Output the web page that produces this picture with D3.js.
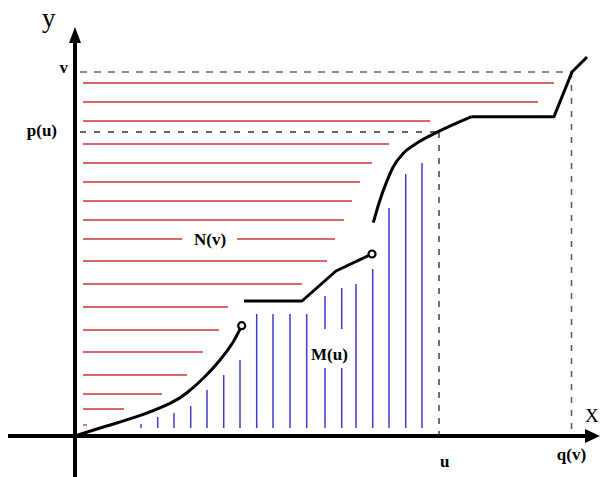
<!DOCTYPE html>
<html>
<head>
<meta charset="utf-8">
<script src="https://cdn.jsdelivr.net/npm/d3@7"></script>
<style>
body { margin: 0; background: #fff; }
text { font-family: "Liberation Serif", "DejaVu Serif", serif; }
</style>
</head>
<body>
<svg width="600" height="477"></svg>
<script>
var width = 600;
var height = 477;

// key values
var u = 7.28, pu = 7.6, v = 9.1, qv = 9.93;

// the function, drawn in pieces (jumps between them)
var pieceA = [[0,0],[0.634,0.25],[1.234,0.483],[1.9,0.818],[2.234,1.075],[2.566,1.443],[2.9,1.9],[3.166,2.358],[3.334,2.758]];
var pieceB = [[3.38,3.375],[4.54,3.375],[5.22,4.125],[5.94,4.55]];
var pieceC = [[5.966,5.333],[6.1,5.9],[6.234,6.358],[6.366,6.733],[6.566,7.068],[6.834,7.318],[7.266,7.608],[7.934,7.983]];
var pieceD = [[7.934,7.983],[9.58,7.983],[9.94,9.1],[10.24,9.475]];

// red horizontal lines (N(v)): level and right end
var redStart = 0.16;
var redLevels = [8.825, 8.35, 7.875, 7.3, 6.825, 6.35, 5.875, 5.4, 4.925, 4.375, 3.8, 3.225, 2.65, 2.1, 1.525, 1.05, 0.675, 0.275];
var redEnds   = [9.58, 9.26, 7.1, 6.28, 5.94, 5.7, 5.54, 5.38, 5.2, 5.04, 4.54, 3.06, 2.88, 2.56, 2.24, 1.74, 0.98, 0.24];

// blue vertical lines (M(u)): position and top
var blueBottom = 0.2;
var blueX    = [1.32, 1.654, 1.98, 2.314, 2.64, 2.974, 3.3, 3.634, 3.96, 4.3, 4.634, 5.0, 5.334, 5.62, 5.954, 6.28, 6.614, 6.94];
var blueTops = [0.3, 0.475, 0.575, 0.75, 1.15, 1.525, 1.9, 3.05, 3.05, 3.05, 3.05, 3.5, 3.7, 3.8, 4.175, 5.7, 6.55, 6.825];

var x = d3.scaleLinear().domain([0, 10]).range([75, 575]);
var y = d3.scaleLinear().domain([0, 10]).range([436, 36]);

var svg = d3.select("svg");

// red lines
svg.append("g").selectAll("line")
  .data(redLevels)
  .enter().append("line")
    .attr("x1", x(redStart))
    .attr("x2", (d, i) => x(redEnds[i]))
    .attr("y1", d => y(d))
    .attr("y2", d => y(d))
    .attr("stroke", "#c40000")
    .attr("stroke-opacity", 0.8)
    .attr("stroke-width", 1.3);

// blue lines
svg.append("g").selectAll("line")
  .data(blueX)
  .enter().append("line")
    .attr("x1", d => x(d))
    .attr("x2", d => x(d))
    .attr("y1", y(blueBottom))
    .attr("y2", (d, i) => y(blueTops[i]))
    .attr("stroke", "#1a1ac4")
    .attr("stroke-opacity", 0.85)
    .attr("stroke-width", 1.5);

// dashed guides
var dashed = svg.append("g").attr("fill", "none").attr("stroke-width", 1.5);
dashed.append("line")
  .attr("x1", x(0.1)).attr("x2", x(qv)).attr("y1", y(v)).attr("y2", y(v))
  .attr("stroke", "#666").attr("stroke-dasharray", "7,7");
dashed.append("line")
  .attr("x1", x(0.1)).attr("x2", x(u)).attr("y1", y(pu)).attr("y2", y(pu))
  .attr("stroke", "#333").attr("stroke-dasharray", "6,8");
dashed.append("line")
  .attr("x1", x(u)).attr("x2", x(u)).attr("y1", y(pu)).attr("y2", y(0))
  .attr("stroke", "#444").attr("stroke-dasharray", "6,7");
dashed.append("line")
  .attr("x1", x(qv)).attr("x2", x(qv)).attr("y1", y(v)).attr("y2", y(0))
  .attr("stroke", "#555").attr("stroke-dasharray", "6,7");

// axes
var axes = svg.append("g");
axes.append("line")
  .attr("x1", x(-1.34)).attr("x2", x(10.2)).attr("y1", y(0)).attr("y2", y(0))
  .attr("stroke", "#000").attr("stroke-width", 4);
axes.append("line")
  .attr("x1", x(0)).attr("x2", x(0)).attr("y1", y(-1.1)).attr("y2", y(9.9))
  .attr("stroke", "#000").attr("stroke-width", 4);
axes.append("path")
  .attr("d", `M${x(10.5)},${y(0)} L${x(10.2)},${y(0) - 7} L${x(10.2)},${y(0) + 7} Z`)
  .attr("fill", "#000");
axes.append("path")
  .attr("d", `M${x(0)},${y(10.225)} L${x(0) - 6},${y(9.825)} L${x(0) + 6},${y(9.825)} Z`)
  .attr("fill", "#000");

// the curve
var natural = d3.line().x(d => x(d[0])).y(d => y(d[1])).curve(d3.curveNatural);
var smooth = d3.line().x(d => x(d[0])).y(d => y(d[1])).curve(d3.curveMonotoneX);
var straight = d3.line().x(d => x(d[0])).y(d => y(d[1]));
var curve = svg.append("g").attr("fill", "none").attr("stroke", "#000")
  .attr("stroke-width", 3).attr("stroke-linejoin", "round");
curve.append("path").attr("d", natural(pieceA));
curve.append("path").attr("d", straight(pieceB));
curve.append("path").attr("d", smooth(pieceC));
curve.append("path").attr("d", straight(pieceD));

// open ends
svg.append("g").selectAll("circle")
  .data([pieceA[pieceA.length - 1], pieceB[pieceB.length - 1]])
  .enter().append("circle")
    .attr("cx", d => x(d[0]))
    .attr("cy", d => y(d[1]))
    .attr("r", 3.5)
    .attr("fill", "#fff")
    .attr("stroke", "#000")
    .attr("stroke-width", 2.2);

// labels
var labels = svg.append("g").attr("fill", "#000");

function boxedLabel(text, px, py, padL, padR, padT, padB) {
  var t = labels.append("text")
    .attr("x", px).attr("y", py)
    .attr("font-size", 17).attr("font-weight", "bold")
    .text(text);
  var b = t.node().getBBox();
  labels.insert("rect", "text")
    .attr("x", b.x - padL).attr("y", b.y - padT)
    .attr("width", b.width + padL + padR).attr("height", b.height + padT + padB)
    .attr("fill", "#fff");
}
boxedLabel("N(v)", x(2.38), y(4.775), 12, 11, 0, 0);
boxedLabel("M(u)", x(4.72), y(1.9), -12, 0, 16, 4);

labels.append("text").attr("x", x(-0.66)).attr("y", y(10.225))
  .attr("font-size", 27).text("y");
labels.append("text").attr("x", x(10.2)).attr("y", y(0.35))
  .attr("font-size", 19).text("X");
labels.append("text").attr("x", x(0) - 7).attr("y", y(v) + 1)
  .attr("text-anchor", "end").attr("font-size", 17).attr("font-weight", "bold").text("v");
labels.append("text").attr("x", x(0) - 18).attr("y", y(pu) + 4)
  .attr("text-anchor", "end").attr("font-size", 17).attr("font-weight", "bold").text("p(u)");
labels.append("text").attr("x", x(u) + 1).attr("y", y(0) + 31)
  .attr("font-size", 17).attr("font-weight", "bold").text("u");
labels.append("text").attr("x", x(qv)).attr("y", y(0) + 24)
  .attr("text-anchor", "middle").attr("font-size", 17).attr("font-weight", "bold").text("q(v)");
</script>
</body>
</html>
